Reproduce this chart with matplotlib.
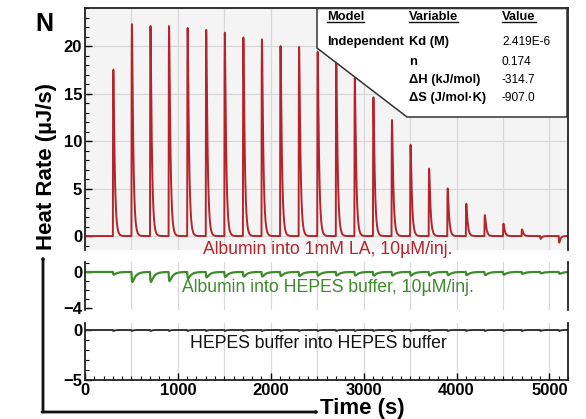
import numpy as np
import matplotlib
matplotlib.use("Agg")
import matplotlib.pyplot as plt
from matplotlib.patches import Polygon, FancyArrowPatch
from matplotlib.lines import Line2D
from matplotlib.ticker import MultipleLocator

plt.rcParams['font.family'] = ['Liberation Sans', 'DejaVu Sans']

# injection times (s), 25 injections every 200 s
inj_times = [300, 500, 700, 900, 1100, 1300, 1500, 1700, 1900, 2100, 2300, 2500,
             2700, 2900, 3100, 3300, 3500, 3700, 3900, 4100, 4300, 4500, 4700, 4900, 5100]

# peak heights (uJ/s)
red_peaks = [17.5, 22.3, 22.1, 22.1, 21.9, 21.7, 21.4, 20.9, 20.7, 20.0, 19.9, 19.4,
             18.5, 16.7, 14.6, 12.2, 9.6, 7.1, 5.0, 3.4, 2.2, 1.3, 0.7, -0.3, -0.7]
green_dips = [-0.3, -1.1, -1.1, -1.0, -0.7, -0.6, -0.55, -0.5, -0.5, -0.45, -0.45, -0.4,
              -0.4, -0.4, -0.4, -0.4, -0.4, -0.4, -0.35, -0.35, -0.35, -0.3, -0.2, -0.15, -0.2]
black_dips = [-0.1] * 25

# fitted table values
tbl_model = ["Independent"]
tbl_vars = ["Kd (M)", "n", "ΔH (kJ/mol)", "ΔS (J/mol·K)"]
tbl_vals = ["2.419E-6", "0.174", "-314.7", "-907.0"]

t = np.arange(0, 5200.5, 0.5)


def trace(heights, rise, decay):
    y = np.zeros_like(t)
    for t0, h in zip(inj_times, heights):
        d = t - t0
        m = d >= 0
        k = (1 - np.exp(-d[m] / rise)) * np.exp(-d[m] / decay)
        y[m] += h * k / k.max()
    return y


red = trace(red_peaks, 3, 14)
green = trace(green_dips, 5, 35)
black = trace(black_dips, 3, 15)

W, H = 586, 419
fig = plt.figure(figsize=(W / 100, H / 100), dpi=100)


def fx(px):
    return px / W


def fy(py):
    return 1 - py / H


ax1 = fig.add_axes([fx(85), fy(250), fx(568) - fx(85), fy(8) - fy(250)])
ax2 = fig.add_axes([fx(85), fy(310), fx(568) - fx(85), fy(262) - fy(310)])
ax3 = fig.add_axes([fx(85), fy(380), fx(568) - fx(85), fy(323) - fy(380)])

RED = '#b5232b'
GREEN = '#3f8a2c'

ax1.plot(t, red, color=RED, lw=1.4)
ax2.plot(t, green, color=GREEN, lw=1.6)
ax3.plot(t, black, color='#333333', lw=1.4)

ax1.set_ylim(-1.47, 24.0)
ax2.set_ylim(-4.2, 1.1)
ax3.set_ylim(-5, 0.7)

ax1.set_facecolor('#f4f4f4')
for ax in (ax1, ax2, ax3):
    ax.set_xlim(0, 5200)
    ax.xaxis.set_major_locator(MultipleLocator(500))
    ax.grid(True, axis='x', color='#d8d8d8', lw=0.9)
    ax.tick_params(axis='y', direction='in', length=5, width=1, labelsize=12, pad=2)
    ax.tick_params(axis='y', which='minor', direction='in', length=3, width=0.8)
    ax.yaxis.set_minor_locator(MultipleLocator(1))
    ax.tick_params(axis='x', length=0, labelbottom=False)
    for s in ax.spines.values():
        s.set_linewidth(1.3)
        s.set_color('#222222')

ax1.grid(True, axis='y', color='#d8d8d8', lw=0.9)
ax1.set_yticks([0, 5, 10, 15, 20])
ax2.set_yticks([0, -4])
ax3.set_yticks([0, -5])

ax1.spines['bottom'].set_visible(False)
ax2.spines['top'].set_visible(False)
ax2.spines['bottom'].set_visible(False)
ax3.spines['top'].set_visible(False)

# bottom axis ticks
ax3.set_xticks([0, 1000, 2000, 3000, 4000, 5000])
ax3.xaxis.set_minor_locator(MultipleLocator(100))
ax3.tick_params(axis='x', which='major', direction='in', length=5, width=1,
                labelbottom=True, labelsize=12, pad=2)
ax3.tick_params(axis='x', which='minor', direction='in', length=3, width=0.8)
ax3.grid(False)
for xv in range(500, 5200, 500):
    ax3.axvline(xv, color='#d8d8d8', lw=0.9, zorder=0)
for ax in (ax1, ax2, ax3):
    for lab in ax.get_xticklabels() + ax.get_yticklabels():
        lab.set_fontweight('bold')

# trace labels
fig.text(fx(328), fy(254), "Albumin into 1mM LA, 10µM/inj.", color=RED,
         fontsize=12.7, ha='center', va='baseline')
fig.text(fx(328), fy(292), "Albumin into HEPES buffer, 10µM/inj.", color=GREEN,
         fontsize=12.7, ha='center', va='baseline')
fig.text(fx(318), fy(348), "HEPES buffer into HEPES buffer", color='#111111',
         fontsize=12.7, ha='center', va='baseline')

# table box with cut corner
poly = Polygon([(fx(317), fy(8.5)), (fx(317), fy(48)), (fx(407), fy(117)),
                (fx(567), fy(117)), (fx(567), fy(8.5))],
               closed=True, transform=fig.transFigure, facecolor='white',
               edgecolor='#333333', lw=1.1, zorder=2)
fig.add_artist(poly)

heads = [fig.text(fx(327), fy(17), "Model", fontsize=9.3, fontweight='bold', va='center'),
         fig.text(fx(409), fy(17), "Variable", fontsize=9.3, fontweight='bold', va='center'),
         fig.text(fx(502), fy(17), "Value", fontsize=9.3, fontweight='bold', va='center')]
fig.text(fx(327), fy(42), tbl_model[0], fontsize=9.3, fontweight='bold', va='center')
row_y = [42, 62, 80, 98]
for v, val, ry in zip(tbl_vars, tbl_vals, row_y):
    fig.text(fx(409), fy(ry), v, fontsize=9.3, fontweight='bold', va='center')
    fig.text(fx(502), fy(ry), val, fontsize=8.6, va='center')

fig.canvas.draw()
r = fig.canvas.get_renderer()
for h in heads:
    bb = h.get_window_extent(r)
    fig.add_artist(Line2D([bb.x0 / W, bb.x1 / W], [(bb.y0 + 1) / H] * 2,
                          transform=fig.transFigure, color='#111111', lw=1.0, zorder=4))

# panel letter and big axis arrows
fig.text(fx(44), fy(24), "N", fontsize=18, fontweight='bold', ha='center', va='center')
fig.text(fx(47), fy(166), "Heat Rate (µJ/s)", fontsize=16, fontweight='bold',
         rotation=90, ha='center', va='center')
fig.text(fx(320), fy(418.5), "Time (s)", fontsize=16, fontweight='bold',
         ha='left', va='bottom')

arrow = dict(arrowstyle='->,head_length=0.5,head_width=0.3', lw=2, color='#111111',
             shrinkA=0, shrinkB=0)
fig.add_artist(FancyArrowPatch((fx(43), fy(412)), (fx(43), fy(256)),
                               transform=fig.transFigure, **arrow))
fig.add_artist(FancyArrowPatch((fx(42), fy(412)), (fx(319), fy(412)),
                               transform=fig.transFigure, **arrow))

fig.savefig("out.png", dpi=100)
